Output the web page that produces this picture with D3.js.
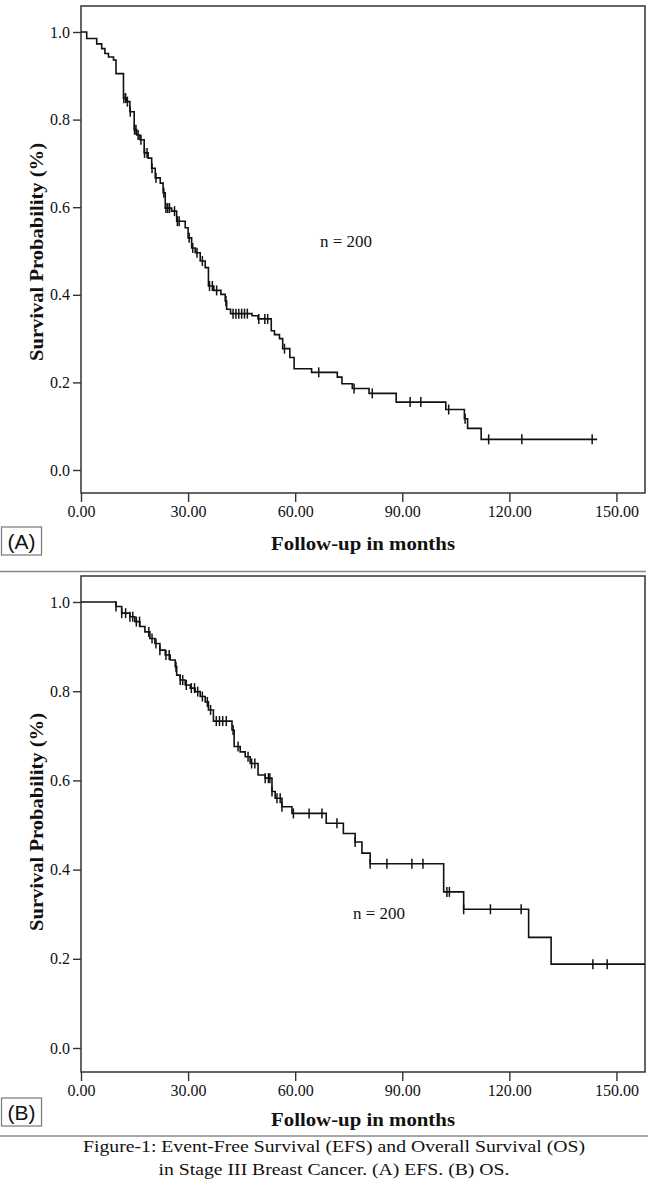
<!DOCTYPE html>
<html>
<head>
<meta charset="utf-8">
<script src="https://cdn.jsdelivr.net/npm/d3@7"></script>
<style>
  body { margin: 0; background: #fff; }
  text { font-family: "Liberation Serif", "Times New Roman", serif; fill: #111; }
</style>
</head>
<body>
<div id="chart"></div>
<script>
const WIDTH = 650
const HEIGHT = 1184

// (A) Event-free survival : step times (months) and survival after each step
const efsTime = [0, 1.6, 4.4, 5.8, 6.7, 7.7, 9.1, 9.8, 11.9, 12.8, 13.7, 14.9, 15.6, 16.5, 17.7, 18.8, 19.8, 20.8,
  22.2, 23.0, 23.6, 25.4, 26.8, 29.2, 30.0, 31.0, 32.0, 33.4, 34.8, 35.7, 37.2, 39.2, 40.4, 40.8, 41.9, 47.9, 49.6, 53.3,
  54.2, 55.6, 56.5, 58.5, 59.7, 64.6, 71.8, 73.1, 76.0, 80.7, 88.3, 102.2, 107.4, 108.3, 112.1]
const efsSurv = [1.0, 0.985, 0.973, 0.962, 0.951, 0.943, 0.936, 0.905, 0.849, 0.841, 0.818, 0.777, 0.765, 0.754, 0.724, 0.712, 0.689, 0.667,
  0.655, 0.633, 0.598, 0.591, 0.568, 0.553, 0.530, 0.507, 0.496, 0.477, 0.462, 0.420, 0.410, 0.401, 0.386, 0.367, 0.357, 0.352, 0.345, 0.318,
  0.309, 0.300, 0.277, 0.257, 0.231, 0.223, 0.212, 0.197, 0.186, 0.175, 0.155, 0.138, 0.117, 0.095, 0.070]
const efsCensor = [12.0, 12.5, 13.0, 13.8, 15.0, 15.4, 16.0, 16.8, 17.8, 18.5, 19.9, 21.0, 23.2, 23.8, 24.3, 24.8, 26.2, 27.0,
  27.5, 30.3, 31.3, 32.5, 34.0, 36.0, 36.8, 38.0, 40.6, 42.6, 43.4, 44.2, 45.0, 45.8, 46.6, 49.8, 51.5, 52.3, 57.0, 66.6,
  76.5, 81.6, 92.2, 95.2, 103.0, 107.6, 114.2, 123.5, 143.2]
const efsEnd = 144.6

// (B) Overall survival
const osTime = [0, 9.8, 11.4, 13.7, 15.1, 16.5, 17.9, 19.3, 20.7, 22.1, 23.6, 25.0, 26.4, 26.8, 27.8, 29.2, 30.6, 32.0, 33.4, 34.8,
  35.7, 37.1, 42.3, 42.9, 44.6, 46.0, 47.4, 49.6, 51.6, 53.5, 54.4, 56.3, 59.1, 68.7, 73.5, 76.8, 78.7, 81.0, 101.6, 107.2, 125.4, 131.7]
const osSurv = [1.0, 0.99, 0.975, 0.967, 0.956, 0.945, 0.933, 0.918, 0.907, 0.892, 0.881, 0.870, 0.855, 0.836, 0.825, 0.814, 0.807, 0.799, 0.788, 0.776,
  0.758, 0.733, 0.713, 0.676, 0.664, 0.653, 0.638, 0.612, 0.605, 0.575, 0.560, 0.541, 0.526, 0.504, 0.481, 0.462, 0.437, 0.413, 0.350, 0.311, 0.248, 0.188]
const osCensor = [9.8, 11.4, 12.5, 13.7, 14.5, 15.5, 16.4, 19.0, 19.9, 21.0, 22.1, 23.8, 24.7, 26.6, 27.8, 28.5, 29.5, 30.9, 31.8, 32.7,
  34.0, 35.4, 36.3, 37.9, 38.8, 39.7, 40.7, 42.6, 44.0, 46.8, 47.8, 48.7, 51.6, 52.5, 52.9, 53.5, 54.9, 55.8, 56.3, 59.5,
  63.9, 67.5, 71.7, 76.8, 81.0, 85.7, 92.7, 95.8, 102.5, 103.2, 107.2, 114.7, 123.3, 143.4, 147.4]
const osEnd = 158

const xTicks = [0, 30, 60, 90, 120, 150]
const yTicks = [0, 0.2, 0.4, 0.6, 0.8, 1.0]

const svg = d3.select("#chart")
  .append("svg")
  .attr("width", WIDTH)
  .attr("height", HEIGHT)

function drawPanel(p) {
  const x = d3.scaleLinear().domain([0, 158]).range([p.left, p.right])
  const y = d3.scaleLinear().domain([0, 1]).range([p.y0, p.y1])
  const g = svg.append("g")

  // axes
  const ya = g.append("g")
    .attr("transform", `translate(${p.left},0)`)
    .call(d3.axisLeft(y).tickValues(yTicks).tickFormat(d3.format(".1f")).tickSize(8).tickPadding(3))
  const xa = g.append("g")
    .attr("transform", `translate(0,${p.bottom})`)
    .call(d3.axisBottom(x).tickValues(xTicks).tickFormat(d3.format(".2f")).tickSize(9).tickPadding(4))
  for (const a of [ya, xa]) {
    a.select(".domain").remove()
    a.selectAll(".tick line").attr("stroke", "#333").attr("stroke-width", 1.4)
    a.selectAll(".tick text")
      .style("font-family", '"Liberation Serif", "Times New Roman", serif')
      .style("font-size", "16px").attr("fill", "#222")
  }

  // frame
  g.append("rect")
    .attr("x", p.left).attr("y", p.top)
    .attr("width", p.right - p.left).attr("height", p.bottom - p.top)
    .attr("fill", "none").attr("stroke", "#333").attr("stroke-width", 1.5)

  // KM step curve
  const pts = p.time.map((t, i) => [t, p.surv[i]])
  pts.push([p.end, p.surv[p.surv.length - 1]])
  const line = d3.line().x(d => x(d[0])).y(d => y(d[1])).curve(d3.curveStepAfter)
  g.append("path").datum(pts)
    .attr("d", line)
    .attr("fill", "none").attr("stroke", "#111").attr("stroke-width", 1.6)

  // censor marks
  const survAt = t => p.surv[Math.max(0, d3.bisectRight(p.time, t) - 1)]
  g.selectAll(".cens").data(p.censor).join("line")
    .attr("x1", d => x(d)).attr("x2", d => x(d))
    .attr("y1", d => y(survAt(d)) - 5).attr("y2", d => y(survAt(d)) + 5)
    .attr("stroke", "#111").attr("stroke-width", 1.5)

  // titles
  g.append("text")
    .attr("transform", `translate(43,${p.yTitle}) rotate(-90)`)
    .attr("text-anchor", "middle")
    .attr("textLength", 218).attr("lengthAdjust", "spacingAndGlyphs")
    .style("font-size", "18px").style("font-weight", "bold")
    .text("Survival Probability (%)")
  g.append("text")
    .attr("x", 363).attr("y", p.xTitle)
    .attr("text-anchor", "middle")
    .attr("textLength", 184).attr("lengthAdjust", "spacingAndGlyphs")
    .style("font-size", "18px").style("font-weight", "bold")
    .text("Follow-up in months")
  g.append("text")
    .attr("x", p.nx).attr("y", p.ny)
    .attr("textLength", 52).attr("lengthAdjust", "spacingAndGlyphs")
    .style("font-size", "17px")
    .text("n = 200")

  // panel letter box
  g.append("rect")
    .attr("x", 1.5).attr("y", p.boxY).attr("width", 40).attr("height", 28)
    .attr("fill", "none").attr("stroke", "#777").attr("stroke-width", 1.2)
  g.append("text")
    .attr("x", 21.5).attr("y", p.boxY + 22)
    .attr("text-anchor", "middle")
    .style("font-family", '"Liberation Sans", Arial, sans-serif')
    .style("font-size", "21px")
    .text(p.label)
}

drawPanel({
  left: 81, right: 645, top: 6, bottom: 493, y0: 470, y1: 32,
  time: efsTime, surv: efsSurv, censor: efsCensor, end: efsEnd,
  yTitle: 252, xTitle: 550, nx: 320, ny: 247, boxY: 527, label: "(A)"
})

drawPanel({
  left: 81, right: 645, top: 576, bottom: 1072, y0: 1048, y1: 602,
  time: osTime, surv: osSurv, censor: osCensor, end: osEnd,
  yTitle: 822, xTitle: 1126, nx: 353, ny: 919, boxY: 1098, label: "(B)"
})

// separators
svg.append("line").attr("x1", 0).attr("x2", 646).attr("y1", 571.5).attr("y2", 571.5)
  .attr("stroke", "#888").attr("stroke-width", 1.5)
svg.append("line").attr("x1", 0).attr("x2", 648).attr("y1", 1136).attr("y2", 1136)
  .attr("stroke", "#888").attr("stroke-width", 1.5)

// caption
svg.append("text").attr("x", 334).attr("y", 1152).attr("text-anchor", "middle")
  .attr("textLength", 502).attr("lengthAdjust", "spacingAndGlyphs")
  .style("font-size", "17px")
  .text("Figure-1: Event-Free Survival (EFS) and Overall Survival (OS)")
svg.append("text").attr("x", 334).attr("y", 1175).attr("text-anchor", "middle")
  .attr("textLength", 351).attr("lengthAdjust", "spacingAndGlyphs")
  .style("font-size", "17px")
  .text("in Stage III Breast Cancer. (A) EFS. (B) OS.")
</script>
</body>
</html>
